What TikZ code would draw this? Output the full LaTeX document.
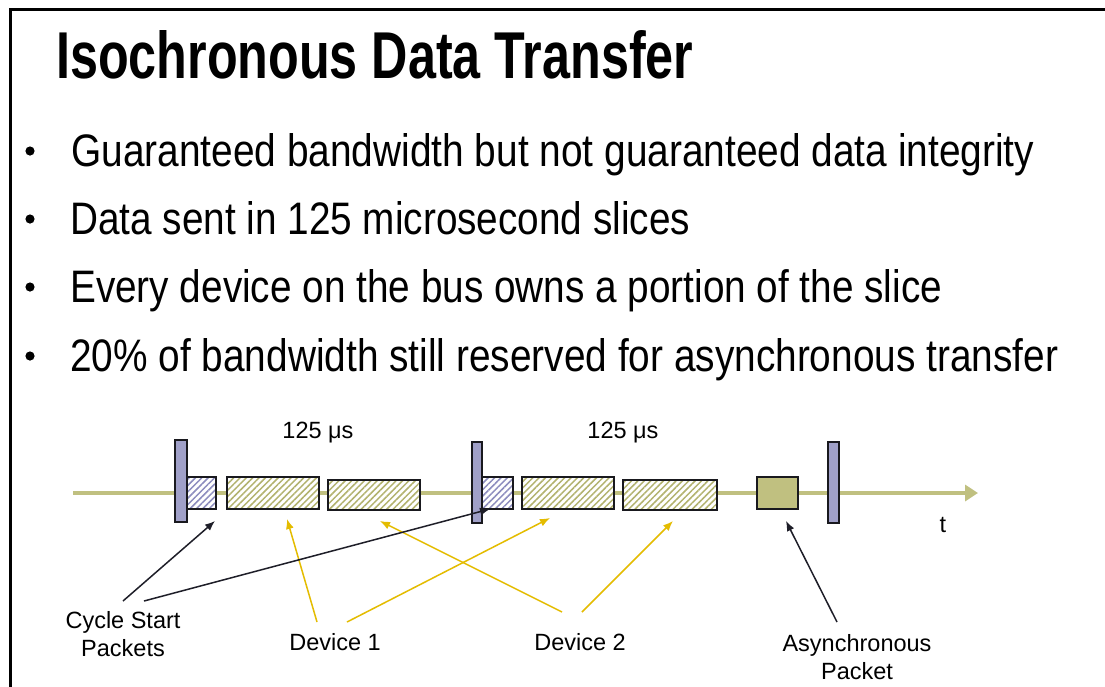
\documentclass[tikz,border=0pt]{standalone}
\usepackage{fontspec}
\setmainfont{Liberation Sans}
\usetikzlibrary{arrows.meta,patterns.meta}
\definecolor{axolive}{RGB}{192,192,128}
\definecolor{hatcholive}{RGB}{178,178,110}
\definecolor{lav}{RGB}{160,160,200}
\definecolor{hatchlav}{RGB}{140,140,190}
\definecolor{edgec}{RGB}{25,25,30}
\definecolor{yel}{RGB}{228,188,0}
\definecolor{blk}{RGB}{30,30,40}
\tikzset{
  barbox/.style={draw=edgec, fill=lav, line width=1.8pt, inner sep=0pt, anchor=north west},
  cspkt/.style={draw=edgec, line width=1.8pt, inner sep=0pt, anchor=north west,
     preaction={fill=white}, pattern={Lines[angle=45,distance=4.5pt,line width=1.5pt]}, pattern color=hatchlav},
  devpkt/.style={draw=edgec, line width=1.8pt, inner sep=0pt, anchor=north west,
     preaction={fill=white}, pattern={Lines[angle=45,distance=4.5pt,line width=1.5pt]}, pattern color=hatcholive},
  asyncpkt/.style={draw=edgec, fill=axolive, line width=1.8pt, inner sep=0pt, anchor=north west},
  axisline/.style={draw=axolive, line width=4.5pt, -{Triangle[length=13pt,width=16pt]}},
  yarrow/.style={draw=yel, line width=1.5pt, -{Latex[length=10pt,width=8pt]}},
  karrow/.style={draw=blk, line width=1.5pt, -{Latex[length=10pt,width=8pt]}},
  lbl/.style={font=\fontsize{23.5}{28}\selectfont, inner sep=0pt, align=center},
  bline/.style={anchor=base west, inner sep=0pt, font=\fontsize{40}{44}\selectfont},
}
\begin{document}
\begin{tikzpicture}[x=1pt,y=-1pt]
\useasboundingbox (0,0) rectangle (1105,686);
\fill[white] (0,0) rectangle (1105,686);
\draw[line width=3pt] (10,690) -- (10,9) -- (1110,9);

% title
\node[anchor=base west, inner sep=0pt] (title) at (56,78)
  {\resizebox{637pt}{48pt}{\fontsize{40}{44}\selectfont\bfseries Isochronous Data Transfer}};

% bullets
\foreach \yy in {151,219,287,356} \fill (30,\yy) circle (4.6pt);
\node[bline] (b1) at (71,166) {\resizebox{963pt}{33pt}{Guaranteed bandwidth but not guaranteed data integrity}};
\node[bline] (b2) at (70,234) {\resizebox{620pt}{33pt}{Data sent in 125 microsecond slices}};
\node[bline] (b3) at (70,302) {\resizebox{872pt}{33pt}{Every device on the bus owns a portion of the slice}};
\node[bline] (b4) at (70,371) {\resizebox{988pt}{33pt}{20\% of bandwidth still reserved for asynchronous transfer}};

% time axis
\coordinate (axs) at (73,493);
\coordinate (axe) at (978,493);
\draw[axisline] (axs) -- (axe);
\node[lbl, anchor=base] (tlab) at (943,532) {t};

% packets
\node[cspkt, minimum width=29pt, minimum height=32pt] (pk1) at (186,476) {};
\node[devpkt, minimum width=92pt, minimum height=32pt] (d1a) at (226,476) {};
\node[devpkt, minimum width=92pt, minimum height=30pt] (d2a) at (327,479) {};
\node[cspkt, minimum width=31pt, minimum height=32pt] (pk2) at (481,476) {};
\node[devpkt, minimum width=92pt, minimum height=32pt] (d1b) at (521,476) {};
\node[devpkt, minimum width=94pt, minimum height=30pt] (d2b) at (622,479) {};
\node[asyncpkt, minimum width=41pt, minimum height=32pt] (ap) at (756,476) {};

% cycle start bars
\node[barbox, minimum width=12pt, minimum height=82pt] (bar1) at (174,439) {};
\node[barbox, minimum width=10pt, minimum height=81pt] (bar2) at (471,441) {};
\node[barbox, minimum width=11pt, minimum height=81pt] (bar3) at (827,441) {};

% period labels
\node[lbl, anchor=base] (p1) at (318,438) {125 μs};
\node[lbl, anchor=base] (p2) at (623,438) {125 μs};

% bottom labels
\node[lbl] (cs) at (123,634.5) {Cycle Start\\Packets};
\node[lbl, anchor=base] (dev1) at (335,650) {Device 1};
\node[lbl, anchor=base] (dev2) at (580,650) {Device 2};
\node[lbl] (asy) at (857,657.5) {Asynchronous\\Packet};

% arrow end points
\coordinate (cs1s) at (123,601);
\coordinate (cs1t) at (215,521);
\coordinate (cs2s) at (144,601);
\coordinate (cs2t) at (490,509);
\coordinate (d1s1) at (317,622);
\coordinate (d1t1) at (287,519);
\coordinate (d1s2) at (347,622);
\coordinate (d1t2) at (550,518);
\coordinate (d2s1) at (562,612);
\coordinate (d2t1) at (380,521);
\coordinate (d2s2) at (582,612);
\coordinate (d2t2) at (673,521);
\coordinate (aps) at (837,622);
\coordinate (apt) at (786,521);

\draw[yarrow] (d1s1) -- (d1t1);
\draw[yarrow] (d1s2) -- (d1t2);
\draw[yarrow] (d2s1) -- (d2t1);
\draw[yarrow] (d2s2) -- (d2t2);
\draw[karrow] (cs1s) -- (cs1t);
\draw[karrow] (cs2s) -- (cs2t);
\draw[karrow] (aps) -- (apt);
\end{tikzpicture}
\end{document}
